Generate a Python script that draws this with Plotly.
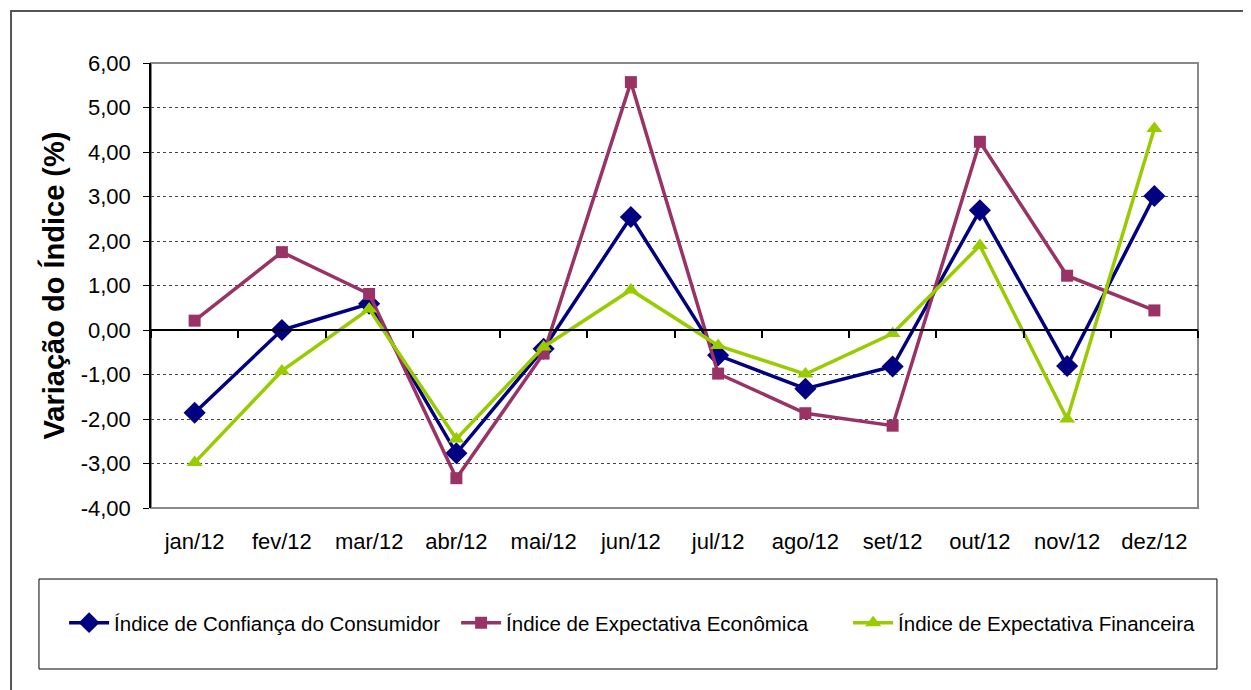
import plotly.graph_objects as go

months = ["jan/12", "fev/12", "mar/12", "abr/12", "mai/12", "jun/12",
          "jul/12", "ago/12", "set/12", "out/12", "nov/12", "dez/12"]
confianca = [-1.86, 0.00, 0.59, -2.77, -0.42, 2.54, -0.57, -1.32, -0.82, 2.69, -0.81, 3.01]
economica = [0.21, 1.75, 0.81, -3.33, -0.53, 5.57, -0.98, -1.87, -2.15, 4.23, 1.22, 0.44]
financeira = [-2.98, -0.92, 0.47, -2.45, -0.38, 0.90, -0.35, -0.99, -0.08, 1.90, -2.00, 4.53]

names = ["Índice de Confiança do Consumidor", "Índice de Expectativa Econômica",
         "Índice de Expectativa Financeira"]
colors = ["#000080", "#993366", "#99CC00"]
symbols = ["diamond", "square", "triangle-up"]
sizes = [17, 12, 14]
yticks = [6, 5, 4, 3, 2, 1, 0, -1, -2, -3, -4]
ytick_text = ["6,00", "5,00", "4,00", "3,00", "2,00", "1,00", "0,00",
              "-1,00", "-2,00", "-3,00", "-4,00"]

fig = go.Figure()
for vals, name, col, sym, sz in zip([confianca, economica, financeira], names, colors, symbols, sizes):
    fig.add_trace(go.Scatter(
        x=months, y=vals, name=name, mode="lines+markers",
        line=dict(color=col, width=3.5),
        marker=dict(symbol=sym, size=sz, color=col),
    ))

# invisible helper trace for the zero-line axis with boundary ticks
fig.add_trace(go.Scatter(x=months, y=confianca, xaxis="x2", mode="markers",
                         marker=dict(opacity=0, size=1), showlegend=False, hoverinfo="skip"))

font_family = "Liberation Sans, Arial, sans-serif"

fig.update_layout(
    width=1243, height=682,
    margin=dict(l=143, r=53, t=55, b=182),
    paper_bgcolor="white", plot_bgcolor="white",
    font=dict(family=font_family, color="black"),
    showlegend=True,
    legend=dict(orientation="h", x=-0.083, xanchor="left",
                y=-0.258, yanchor="middle",
                font=dict(size=20.5, family=font_family), bgcolor="rgba(0,0,0,0)",
                itemwidth=40, tracegroupgap=0,
                entrywidth=337, entrywidthmode="pixels"),
    xaxis=dict(type="category", categoryorder="array", categoryarray=months,
               range=[-0.5, 11.5], showgrid=False, showline=False, ticks="",
               tickfont=dict(size=22), ticklabelstandoff=18, zeroline=False),
    xaxis2=dict(type="category", categoryorder="array", categoryarray=months,
                overlaying="x", anchor="free", position=0.4, side="bottom",
                range=[-0.5, 11.5], showgrid=False, showline=True, linecolor="black",
                linewidth=1.5, ticks="outside", tickson="boundaries", ticklen=7,
                tickcolor="black", tickwidth=1.5, showticklabels=False, zeroline=False),
    yaxis=dict(range=[-4, 6], tickvals=yticks, ticktext=ytick_text,
               tickfont=dict(size=22), showgrid=True, gridcolor="#444444",
               griddash="dot", gridwidth=1, zeroline=False,
               showline=True, linecolor="black", linewidth=1.5,
               ticks="outside", ticklen=6, tickcolor="black",
               ticklabelstandoff=8,
               title=dict(text="<b>Variação do Índice (%)</b>", font=dict(size=29),
                          standoff=8)),
    shapes=[
        # plot frame
        dict(type="rect", xref="paper", yref="paper", x0=0, x1=1, y0=0, y1=1,
             line=dict(color="#888888", width=2), layer="below"),
        # outer frame
        dict(type="rect", xref="paper", yref="paper", x0=-0.1337, x1=1.3, y0=-0.6, y1=1.1169,
             line=dict(color="#555555", width=2), layer="below"),
        # legend box
        dict(type="rect", xref="paper", yref="paper", x0=-0.107, x1=1.0181, y0=-0.3618, y1=-0.1596,
             line=dict(color="black", width=1), layer="below"),
    ],
)

fig.write_html("out.html")
